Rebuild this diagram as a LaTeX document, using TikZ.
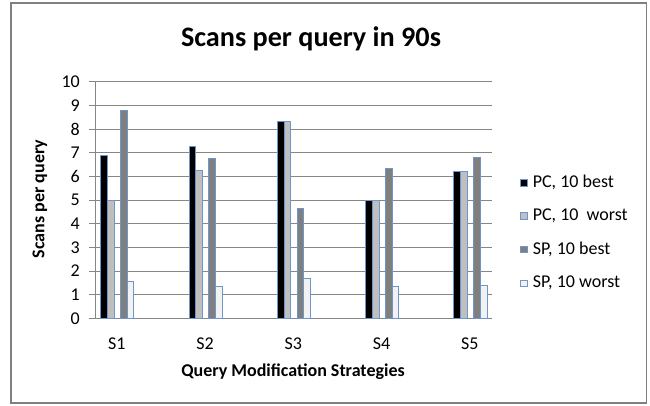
\documentclass[tikz,border=0pt]{standalone}
\usepackage{fontspec}
\setmainfont{Carlito}
\definecolor{gridgray}{RGB}{134,134,134}
\definecolor{framegray}{RGB}{128,128,128}
\definecolor{baredge}{RGB}{110,150,205}
\definecolor{sera}{RGB}{0,0,0}
\definecolor{serb}{RGB}{191,191,191}
\definecolor{serc}{RGB}{127,127,127}
\definecolor{serd}{RGB}{242,242,242}
\begin{document}
\begin{tikzpicture}[x=1bp,y=-1bp,
  gridline/.style={draw=gridgray, line width=0.9bp},
  barbox/.style={draw=baredge, line width=0.8bp},
  lbl/.style={font=\fontsize{18bp}{20bp}\selectfont, inner sep=0pt},
  blbl/.style={font=\fontsize{18bp}{20bp}\selectfont\bfseries, inner sep=0pt},
  ]
\useasboundingbox (0,0) rectangle (650,405);
\fill[white] (0,0) rectangle (650,405);
\draw[draw=framegray, line width=1.5bp] (11,3) rectangle (646.5,403);
% title
\node[font=\fontsize{28.2bp}{30bp}\selectfont\bfseries, inner sep=0pt, anchor=base] (title) at (311,46.7) {Scans per query in 90s};
% grid
\foreach \v in {1,...,10} {
  \draw[gridline] (95.7,{318.3-23.66*\v}) -- (491.7,{318.3-23.66*\v});
}
\foreach \v in {0,...,10} {
  \draw[gridline] (88.5,{318.3-23.66*\v}) -- (95.7,{318.3-23.66*\v});
  \node[lbl, anchor=east] (t\v) at (80,{318.3-23.66*\v}) {\v};
}
\draw[gridline] (95.7,81.7) -- (95.7,318.3);
\draw[gridline] (88.5,318.3) -- (491.7,318.3);
% bars
\foreach \i/\a/\b/\c/\d in {1/6.87/5.0/8.77/1.57, 2/7.27/6.24/6.74/1.35, 3/8.31/8.31/4.66/1.69, 4/5.0/5.0/6.32/1.35, 5/6.22/6.22/6.81/1.39} {
  \pgfmathsetmacro\cx{116.7+88.3*(\i-1)}
  \draw[barbox, fill=sera] ({\cx-16.1},318.3) rectangle ({\cx-9.4},{318.3-23.66*\a});
  \draw[barbox, fill=serb] ({\cx-9.4},318.3) rectangle ({\cx-2.7},{318.3-23.66*\b});
  \draw[barbox, fill=serc] ({\cx+3.6},318.3) rectangle ({\cx+10.3},{318.3-23.66*\c});
  \draw[barbox, fill=serd] ({\cx+10.3},318.3) rectangle ({\cx+17.0},{318.3-23.66*\d});
  \node[lbl, anchor=base] (c\i) at (\cx,349) {S\i};
}
% axis titles
\node[blbl, anchor=base] (xtitle) at (293,376.5) {Query Modification Strategies};
\node[blbl, rotate=90] (ytitle) at (40,199) {Scans per query};
% legend
\foreach \n/\col/\y/\t in {1/sera/182.7/{PC, 10 best}, 2/serb/216/{PC, 10\ \ worst}, 3/serc/249.3/{SP, 10 best}, 4/serd/283.3/{SP, 10 worst}} {
  \draw[barbox, fill=\col] (520.7,{\y-3.35}) rectangle (527.4,{\y+3.35});
  \node[lbl, anchor=west] (l\n) at (532.7,\y) {\t};
}
\end{tikzpicture}
\end{document}
